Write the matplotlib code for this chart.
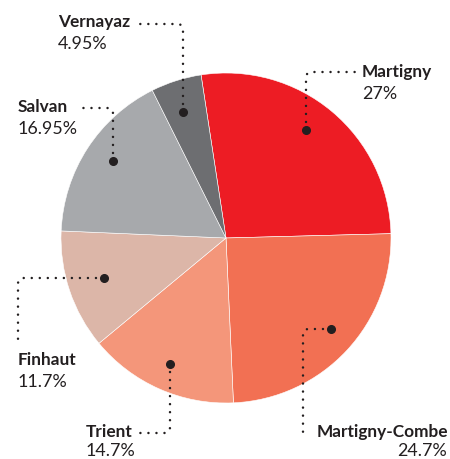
import numpy as np
import matplotlib
matplotlib.use("Agg")
import matplotlib.pyplot as plt

labels = ["Martigny", "Martigny-Combe", "Trient", "Finhaut", "Salvan", "Vernayaz"]
values = [27, 24.7, 14.7, 11.7, 16.95, 4.95]
pct_labels = ["27%", "24.7%", "14.7%", "11.7%", "16.95%", "4.95%"]
colors = ["#ED1C24", "#F27053", "#F4967A", "#DCB6A8", "#A7A9AC", "#6D6E71"]

W, H = 450, 459
fig = plt.figure(figsize=(W / 100, H / 100), dpi=100)
ax = fig.add_axes([0, 0, 1, 1])
ax.set_xlim(0, W)
ax.set_ylim(0, H)
ax.set_aspect("equal")
ax.axis("off")

cx, cy, r = 226, H - 238, 165
ax.pie(values, colors=colors, startangle=98.7, counterclock=False,
       center=(cx, cy), radius=r, frame=True,
       wedgeprops=dict(edgecolor="white", linewidth=0.4))
ax.set_xlim(0, W)
ax.set_ylim(0, H)
ax.axis("off")

TXT = "#231F20"
FONT = "Lato"
FS_NAME = 12.4
FS_PCT = 12.9

def Y(y):
    return H - y

def leader(dot, corner, end, rad=6):
    (x0, y0), (xc, yc), (x1, y1) = dot, corner, end
    d1 = np.array([xc - x0, yc - y0], float); d1 /= np.linalg.norm(d1)
    d2 = np.array([x1 - xc, y1 - yc], float); d2 /= np.linalg.norm(d2)
    p1 = np.array([xc, yc]) - d1 * rad
    p2 = np.array([xc, yc]) + d2 * rad
    t = np.linspace(0, 1, 12)[:, None]
    c = np.array([xc, yc])
    curve = (1 - t) ** 2 * p1 + 2 * (1 - t) * t * c + t ** 2 * p2
    pts = np.vstack([[x0, y0], p1, curve, p2, [x1, y1]])
    ax.plot(pts[:, 0], H - pts[:, 1], color=TXT, lw=1.8,
            linestyle=(0, (0.01, 3.2)), dash_capstyle="round", zorder=5)
    ax.plot([x0], [Y(y0)], "o", color=TXT, ms=5.5, zorder=6)

def label(x, y, name, pct, ha="left"):
    ax.text(x, Y(y), name, fontsize=FS_NAME, fontweight="bold", color=TXT,
            family=FONT, ha=ha, va="center")
    ax.text(x, Y(y + 22), pct, fontsize=FS_PCT, color=TXT,
            family=FONT, ha=ha, va="center")

# Vernayaz
leader((183, 112), (183, 24), (138, 24))
label(58, 22, labels[5], pct_labels[5])
# Salvan
leader((113, 161), (113, 108), (78, 108))
label(18, 107, labels[4], pct_labels[4])
# Martigny
leader((306, 130), (306, 72), (355, 72))
label(362, 72, labels[0], pct_labels[0])
# Finhaut
leader((104, 278), (18, 278), (18, 344))
label(18, 360, labels[3], pct_labels[3])
# Trient
leader((170, 364), (170, 433), (138, 433))
ax.text(86, Y(432), labels[2], fontsize=FS_NAME, fontweight="bold", color=TXT,
        family=FONT, ha="left", va="center")
ax.text(86, Y(451), pct_labels[2], fontsize=FS_PCT, color=TXT,
        family=FONT, ha="left", va="center")
# Martigny-Combe
leader((331, 329), (303, 329), (303, 437))
ax.text(317, Y(432), labels[1], fontsize=FS_NAME, fontweight="bold", color=TXT,
        family=FONT, ha="left", va="center")
ax.text(447, Y(451), pct_labels[1], fontsize=FS_PCT, color=TXT,
        family=FONT, ha="right", va="center")

fig.savefig("out.png", dpi=100)
